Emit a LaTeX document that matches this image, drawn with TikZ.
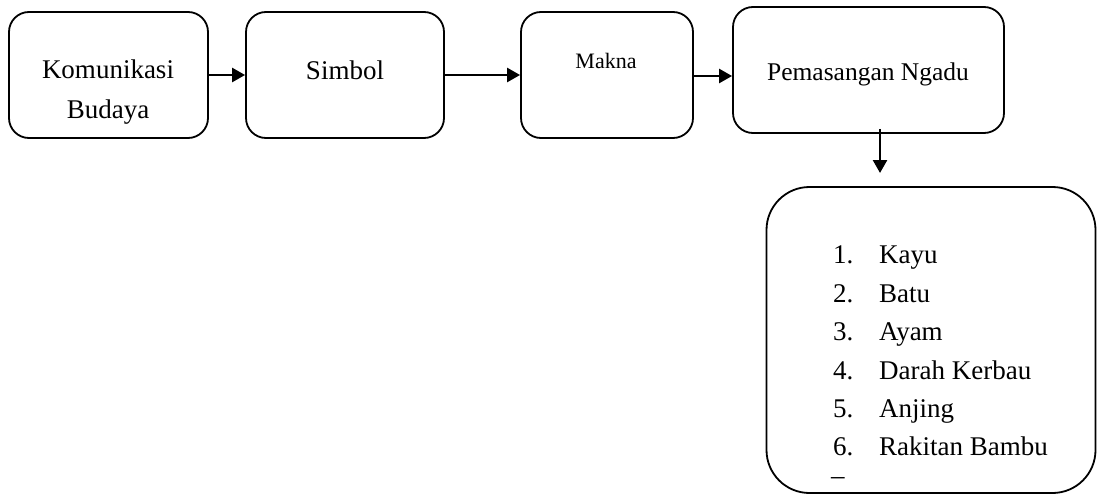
\documentclass[tikz,border=0pt]{standalone}
\usepackage{fontspec}
\setmainfont{Liberation Serif}
\usetikzlibrary{arrows.meta,calc}
\begin{document}
\begin{tikzpicture}[x=1pt,y=-1pt,
  box/.style={draw=black,line width=1.8pt,rounded corners=20pt,inner sep=0pt},
  bigbox/.style={draw=black,line width=1.8pt,rounded corners=43pt,inner sep=0pt},
  txt/.style={inner sep=0pt,anchor=base,font=\fontsize{27}{32}\selectfont},
  itm/.style={inner sep=0pt,anchor=base west,font=\fontsize{27}{32}\selectfont},
  arr/.style={line width=2.5pt,-{Triangle[length=13pt,width=14pt]}}]
\useasboundingbox (0,0) rectangle (1097,495);
\node[box,minimum width=199pt,minimum height=126pt] (b1) at (108.5,75) {};
\node[box,minimum width=198pt,minimum height=126pt] (b2) at (345,75) {};
\node[box,minimum width=172pt,minimum height=126pt] (b3) at (607,75) {};
\node[box,minimum width=271pt,minimum height=126pt] (b4) at (868.5,70) {};
\node[bigbox,minimum width=329pt,minimum height=306pt] (b5) at (931,340) {};
\node[txt] (t1a) at (108,78) {Komunikasi};
\node[txt] (t1b) at (108,118) {Budaya};
\node[txt] (t2) at (345,80) {Simbol};
\node[txt,font=\fontsize{22}{26}\selectfont] (t3) at (606,68) {Makna};
\node[txt,font=\fontsize{25.5}{30}\selectfont] (t4) at (868,81) {Pemasangan Ngadu};
\node[itm] (n1) at (833,263) {1.};
\node[itm] (i1) at (879,263) {Kayu};
\node[itm] (n2) at (833,302) {2.};
\node[itm] (i2) at (879,302) {Batu};
\node[itm] (n3) at (833,340) {3.};
\node[itm] (i3) at (879,340) {Ayam};
\node[itm] (n4) at (833,379) {4.};
\node[itm] (i4) at (879,379) {Darah Kerbau};
\node[itm] (n5) at (833,417) {5.};
\node[itm] (i5) at (879,417) {Anjing};
\node[itm] (n6) at (833,455) {6.};
\node[itm] (i6) at (879,455) {Rakitan Bambu};
\node[itm] (n7) at (831,484) {–};
\coordinate (dn) at (880,173);
\draw[arr] (b1.east |- 0,75) -- (b2.west |- 0,75);
\draw[arr] (b2.east |- 0,75) -- (b3.west |- 0,75);
\draw[arr] (b3.east |- 0,76) -- (b4.west |- 0,76);
\draw[arr] ([yshift=5pt]b4.south -| dn) -- (dn);
\end{tikzpicture}
\end{document}
